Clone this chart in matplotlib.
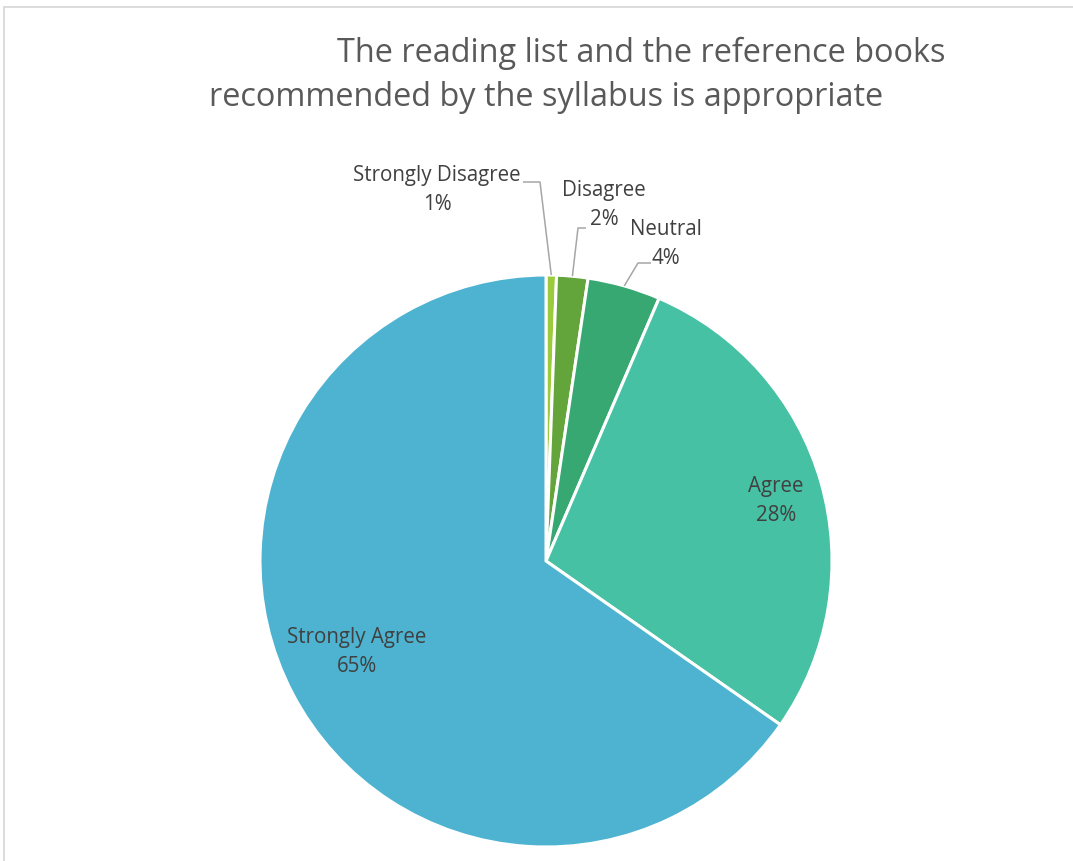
import numpy as np
import matplotlib.pyplot as plt
from matplotlib.patches import Rectangle

# survey responses, clockwise from 12 o'clock
categories = ['Strongly Disagree', 'Disagree', 'Neutral', 'Agree', 'Strongly Agree']
counts = [1, 3, 7, 48, 111]
colors = ['#9BCB3C', '#63A43B', '#37A872', '#46C1A3', '#4DB3D0']
title_lines = ['The reading list and the reference books',
               'recommended by the syllabus is appropriate']

W, H = 1073, 861
fig = plt.figure(figsize=(W / 100, H / 100), dpi=100)
ax = fig.add_axes([0, 0, 1, 1])
ax.set_xlim(0, W)
ax.set_ylim(0, H)
ax.set_aspect('equal')
ax.axis('off')

font = 'Open Sans'
label_color = '#404040'
label_size = 14.8
label_spacing = 1.55

# chart area border
ax.add_patch(Rectangle((4, -10), W + 20, H - 7 + 10, facecolor='none',
                       edgecolor='#D9D9D9', linewidth=1.3))

cx, cy, r = 546, H - 561, 286
wedges, _ = ax.pie(counts, colors=colors, startangle=90, counterclock=False,
                   center=(cx, cy), radius=r,
                   wedgeprops=dict(edgecolor='white', linewidth=2.2))
ax.set_xlim(0, W)
ax.set_ylim(0, H)

total = sum(counts)
pcts = [f'{round(100 * c / total):.0f}%' for c in counts]


def edge_point(w, frac=1.0):
    ang = np.deg2rad((w.theta1 + w.theta2) / 2)
    return cx + frac * r * np.cos(ang), cy + frac * r * np.sin(ang)


# outside labels with leader lines: (text x, text y, elbow x, elbow y, line start x)
outside = {
    0: (437, H - 190, 540, H - 182, 523),
    1: (604, H - 205, 578, H - 228, 586),
    2: (666, H - 244, 638, H - 263, 651),
}
for i, (tx, ty, ex, ey, lx) in outside.items():
    px, py = edge_point(wedges[i])
    ax.plot([lx, ex, px], [ey, ey, py], color='#A6A6A6', linewidth=1.1,
            solid_capstyle='butt')
    ax.text(tx, ty, f'{categories[i]}\n{pcts[i]}', ha='center', va='center',
            fontsize=label_size, family=font, color=label_color,
            linespacing=label_spacing)

# inside labels
inside = {3: (776, H - 501), 4: (357, H - 652)}
for i, (tx, ty) in inside.items():
    ax.text(tx, ty, f'{categories[i]}\n{pcts[i]}', ha='center', va='center',
            fontsize=label_size, family=font, color=label_color,
            linespacing=label_spacing)

ax.text(641, H - 53, title_lines[0], ha='center', va='center',
        fontsize=23.4, family=font, color='#595959')
ax.text(546, H - 97, title_lines[1], ha='center', va='center',
        fontsize=23.4, family=font, color='#595959')

fig.savefig('out.png', dpi=100)
